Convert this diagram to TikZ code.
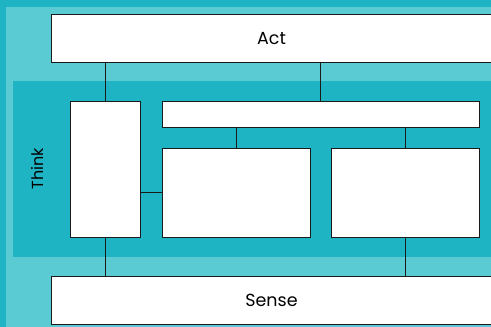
\documentclass[tikz,border=0pt]{standalone}
\usepackage{fontspec}
\setmainfont{Poppins}
\usepackage{xcolor}
\usetikzlibrary{positioning}
\definecolor{tealdark}{HTML}{1FB4C3}
\definecolor{teallight}{HTML}{5BCBD3}
\definecolor{edge}{HTML}{1A1A1A}

\begin{document}
\begin{tikzpicture}[x=1pt,y=-1pt,
  box/.style={draw=edge,line width=1pt,fill=white,inner sep=0pt},
  link/.style={draw=edge,line width=1pt},
  lbl/.style={font=\fontsize{17.5}{20}\selectfont,text=black}]
\useasboundingbox (0,0) rectangle (491,327);

%background
\fill [tealdark] (0,0) rectangle (491,327);
\fill [teallight] (6,7) rectangle (497,333);
\fill [tealdark] (13,80.7) rectangle (497,256.7);

%Think
\node [lbl,font=\fontsize{16}{19}\selectfont,rotate=90] (think) at (37,168.7) {Think};

%Act
\node [box,lbl,minimum width=441pt,minimum height=47.3pt] (act) at (271.5,38.35) {Act};

%Sense
\node [box,lbl,minimum width=441pt,minimum height=47.3pt] (sense) at (271.5,300.35) {Sense};

%inner boxes
\node [box,minimum width=70pt,minimum height=136pt] (pl) at (105,169) {};
\node [box,minimum width=317pt,minimum height=26pt] (pw) at (320.5,114) {};
\node [box,minimum width=148pt,minimum height=89pt] (mid) at (236,192.5) {};
\node [box,minimum width=148pt,minimum height=89pt] (right) at (405,192.5) {};

%links up
\draw [link] (pl.north) -- (pl.north |- act.south);
\draw [link] (pw.north) -- (pw.north |- act.south);
\draw [link] (mid.north) -- (mid.north |- pw.south);
\draw [link] (right.north) -- (right.north |- pw.south);
\draw [link] (mid.west) -- (mid.west -| pl.east);

%links down
\draw [link] (pl.south) -- (pl.south |- sense.north);
\draw [link] (right.south) -- (right.south |- sense.north);
\end{tikzpicture}
\end{document}
